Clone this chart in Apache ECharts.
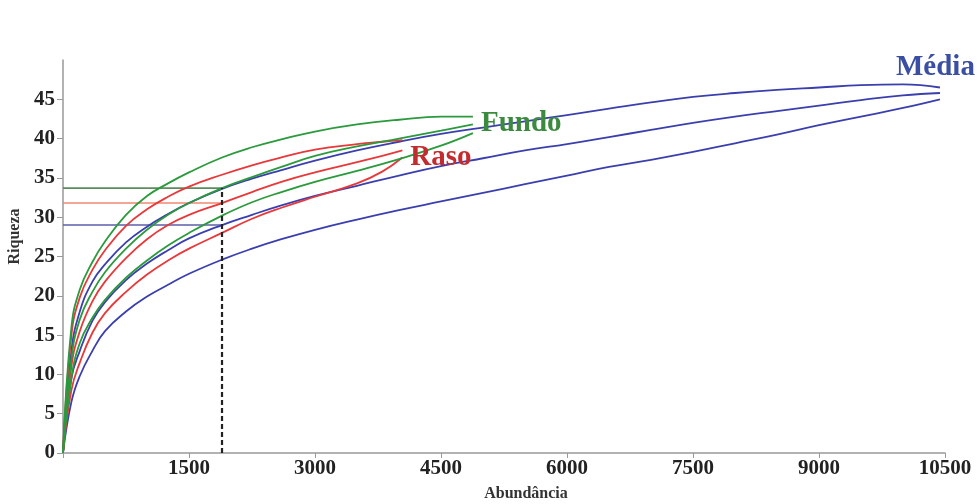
<!DOCTYPE html>
<html>
<head>
<meta charset="utf-8">
<script src="https://cdn.jsdelivr.net/npm/echarts@6/dist/echarts.min.js"></script>
<style>
  html, body { margin: 0; padding: 0; background: #fff; }
  #chart { width: 978px; height: 504px; }
</style>
</head>
<body>
<div id="chart"></div>
<script>
// Rarefaction curves (richness vs. abundance) with 95% bounds per group

// Fundo (green)
const fundoN     = [0, 100, 200, 350, 500, 750, 1000, 1250, 1500, 1893, 2250, 2600, 3000, 3500, 4000, 4500, 4880];
const fundoUpper = [0, 16.0, 20.8, 24.3, 26.9, 30.3, 32.7, 34.3, 35.7, 37.6, 38.9, 39.9, 40.9, 41.8, 42.4, 42.8, 42.8];
const fundoMean  = [0, 12.0, 17.0, 20.5, 23.0, 26.0, 28.4, 30.3, 31.8, 33.7, 35.1, 36.4, 37.8, 39.0, 40.0, 41.0, 41.8];
const fundoLower = [0, 9.5, 14.0, 17.2, 19.5, 22.3, 24.5, 26.4, 28.0, 30.2, 31.9, 33.2, 34.5, 35.9, 37.4, 39.1, 40.7];

// Raso (red)
const rasoN     = [0, 100, 200, 350, 500, 750, 1000, 1250, 1500, 1893, 2250, 2600, 3000, 3500, 3800, 4040];
const rasoUpper = [0, 15.0, 19.8, 23.3, 25.8, 28.9, 31.0, 32.6, 33.9, 35.4, 36.6, 37.6, 38.6, 39.3, 39.6, 39.8];
const rasoMean  = [0, 11.0, 15.5, 19.3, 21.8, 24.8, 27.2, 29.0, 30.3, 31.8, 33.2, 34.5, 35.7, 37.0, 37.8, 38.5];
const rasoLower = [0, 8.0, 11.5, 15.3, 17.8, 20.5, 22.7, 24.5, 26.0, 28.0, 29.8, 31.2, 32.6, 34.3, 35.8, 37.6];

// Média (blue)
const mediaN     = [0, 100, 200, 350, 500, 750, 1000, 1250, 1500, 1893, 2250, 2600, 3000, 3500, 4000, 4500, 5000, 5500, 6000, 6500, 7000, 7500, 8000, 8500, 9000, 9500, 10000, 10440];
const mediaUpper = [0, 13.0, 18.0, 21.8, 24.0, 26.8, 28.8, 30.4, 31.8, 33.6, 34.9, 36.0, 37.2, 38.5, 39.6, 40.6, 41.4, 42.2, 43.0, 43.8, 44.6, 45.3, 45.8, 46.2, 46.5, 46.8, 46.9, 46.5];
const mediaMean  = [0, 9.5, 13.0, 16.8, 19.2, 22.0, 24.1, 25.8, 27.3, 29.0, 30.3, 31.5, 32.7, 34.0, 35.3, 36.5, 37.5, 38.5, 39.3, 40.2, 41.1, 42.0, 42.8, 43.5, 44.2, 44.9, 45.5, 45.8];
const mediaLower = [0, 6.5, 9.8, 13.0, 15.5, 18.0, 19.9, 21.4, 22.8, 24.6, 26.0, 27.2, 28.4, 29.7, 30.9, 32.0, 33.1, 34.2, 35.3, 36.4, 37.3, 38.3, 39.4, 40.5, 41.7, 42.8, 43.9, 45.0];

// Common sample size used for comparison, and the richness each group reaches there
const commonN = 1893;
const richnessAtCommonN = { fundo: 33.7, raso: 31.8, media: 29.0 };

// Axis ticks
const xTicks = [0, 1500, 3000, 4500, 6000, 7500, 9000, 10500];
const xLabels = [1500, 3000, 4500, 6000, 7500, 9000, 10500];
const yTicks = [0, 5, 10, 15, 20, 25, 30, 35, 40, 45];

const GREEN = '#2a9a3c', RED = '#e8383a', BLUE = '#3b3fae';
const pairs = (xs, ys) => xs.map((x, i) => [x, ys[i]]);
const serifBold = { fontFamily: 'Liberation Serif', fontWeight: 'bold' };

function curve(name, xs, ys, color, endText, endColor, offset) {
  const s = {
    name, type: 'line', data: pairs(xs, ys), showSymbol: false,
    smooth: 0.45,
    lineStyle: { color, width: 1.8 }, z: 3
  };
  if (endText) {
    s.endLabel = {
      show: true, formatter: endText, offset,
      color: endColor, fontSize: 29, ...serifBold
    };
  }
  return s;
}
function level(name, y, color) {
  return {
    name, type: 'line', data: [[0, y], [commonN, y]], showSymbol: false,
    lineStyle: { color, width: 1.6 }, z: 2
  };
}

const chart = echarts.init(document.getElementById('chart'));
chart.setOption({
  animation: false,
  grid: { left: 63, right: 33, top: 60, bottom: 51, containLabel: false, outerBoundsMode: 'none' },
  xAxis: {
    type: 'value', min: 0, max: 10500, interval: 1500,
    name: 'Abundância', nameLocation: 'middle', nameGap: 33,
    nameTextStyle: { color: '#333', fontSize: 16, ...serifBold, padding: [0, 0, 0, 44] },
    axisLine: { lineStyle: { color: '#999', width: 1.5 } },
    axisTick: { show: true, length: 5, customValues: xTicks, lineStyle: { color: '#999' } },
    axisLabel: {
      color: '#222', fontSize: 21, ...serifBold, margin: 5,
      customValues: xLabels, formatter: v => String(v)
    },
    splitLine: { show: false }
  },
  yAxis: {
    type: 'value', min: 0, max: 50, interval: 5,
    name: 'Riqueza', nameLocation: 'middle', nameGap: 36,
    nameTextStyle: { color: '#333', fontSize: 16, ...serifBold, padding: [0, 0, 0, 40] },
    axisLine: { show: true, lineStyle: { color: '#999', width: 1.5 } },
    axisTick: { show: true, length: 6, customValues: yTicks, lineStyle: { color: '#999' } },
    axisLabel: {
      color: '#222', fontSize: 21, ...serifBold, margin: 8,
      customValues: yTicks, formatter: v => String(v)
    },
    splitLine: { show: false }
  },
  series: [
    level('Fundo S(n)', richnessAtCommonN.fundo, '#5b8c5b'),
    level('Raso S(n)', richnessAtCommonN.raso, '#f2876f'),
    level('Média S(n)', richnessAtCommonN.media, '#5e5ea8'),
    {
      name: 'n comum', type: 'line', showSymbol: false,
      data: [[commonN, 0], [commonN, richnessAtCommonN.fundo]],
      lineStyle: { color: '#222', width: 2.2, type: [5, 3] }, z: 4
    },
    curve('Média sup', mediaN, mediaUpper, BLUE),
    curve('Média', mediaN, mediaMean, BLUE, 'Média', '#3a4fa3', [-52, -25]),
    curve('Média inf', mediaN, mediaLower, BLUE),
    curve('Raso sup', rasoN, rasoUpper, RED),
    curve('Raso', rasoN, rasoMean, RED, 'Raso', '#c42b2e', [0, 7]),
    curve('Raso inf', rasoN, rasoLower, RED),
    curve('Fundo sup', fundoN, fundoUpper, GREEN),
    curve('Fundo', fundoN, fundoMean, GREEN, 'Fundo', '#3c8a3e', [0, -1]),
    curve('Fundo inf', fundoN, fundoLower, GREEN)
  ]
});
</script>
</body>
</html>
